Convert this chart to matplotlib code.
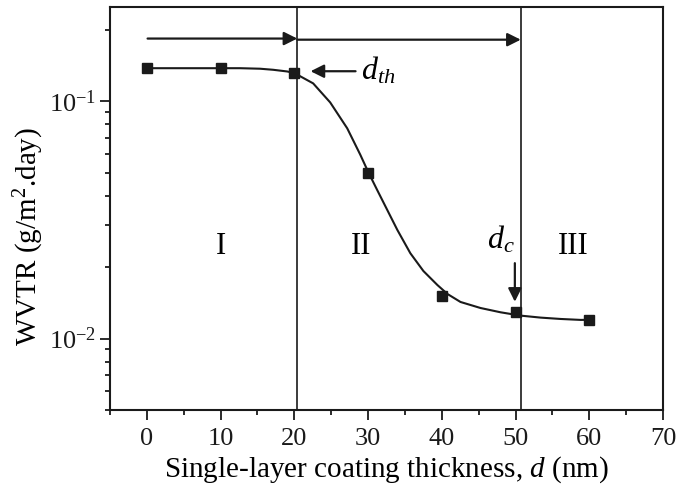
import matplotlib
matplotlib.use("Agg")
import matplotlib.pyplot as plt
from matplotlib.ticker import MultipleLocator, LogLocator, NullFormatter

# measured points (x = thickness in nm, y = WVTR)
thickness = [0, 10, 20, 30, 40, 50, 60]
wvtr = [0.138, 0.138, 0.132, 0.0500, 0.0151, 0.0130, 0.0120]

# fitted curve
fit_x = [0, 10, 12.64, 15.35, 17.12, 19.02, 19.97, 22.55, 24.86, 27.17,
         28.94, 30.03, 31.25, 32.61, 33.97, 35.73, 37.5, 39.4, 40.76, 42.53,
         45.24, 47.96, 50.68, 53.4, 56.11, 58.83, 60]
fit_y = [0.1380, 0.1380, 0.1380, 0.1373, 0.1359, 0.1337, 0.1318, 0.1191,
         0.0990, 0.0770, 0.0596, 0.0503, 0.0422, 0.0348, 0.0287, 0.0229,
         0.01927, 0.01682, 0.01542, 0.01427, 0.01346, 0.01291, 0.01250,
         0.01226, 0.01210, 0.01199, 0.0120]

# region boundaries
d_th = 20.4
d_c = 50.7
region_labels = ["I", "II", "III"]
region_x = [10, 29, 57.8]
region_y = 0.0245

plt.rcParams["font.family"] = ["Liberation Serif", "DejaVu Serif"]
plt.rcParams["mathtext.fontset"] = "custom"
plt.rcParams["mathtext.rm"] = "Liberation Serif"
plt.rcParams["mathtext.it"] = "Liberation Serif:italic"

fig = plt.figure(figsize=(6.78, 4.88), dpi=100)
ax = fig.add_axes([0.1622, 0.1598, 0.8158, 0.8259])

ax.plot(fit_x, fit_y, color="#1a1a1a", lw=1.5, solid_joinstyle="round")
ax.plot(thickness, wvtr, "s", color="#1a1a1a", ms=6.7)

ax.axvline(d_th, color="#1a1a1a", lw=1.2)
ax.axvline(d_c, color="#1a1a1a", lw=1.2)

arrow = dict(arrowstyle="-|>", color="#1a1a1a", lw=1.6,
             shrinkA=0, shrinkB=0, mutation_scale=20)
# top arrows spanning the regions
ax.annotate("", xy=(d_th, 0.184), xytext=(0.1, 0.184), arrowprops=arrow)
ax.annotate("", xy=(d_c, 0.182), xytext=(d_th, 0.182), arrowprops=arrow)
# d_th and d_c markers
ax.annotate("", xy=(22.2, 0.134), xytext=(28.3, 0.134), arrowprops=arrow)
ax.text(29.0, 0.134, r"$d_{th}$", fontsize=23, va="center", ha="left")
ax.annotate("", xy=(49.9, 0.0143), xytext=(49.9, 0.0208), arrowprops=arrow)
ax.text(48.0, 0.0262, r"$d_c$", fontsize=23, va="center", ha="center")

for lab, xx in zip(region_labels, region_x):
    ax.text(xx, region_y, lab, fontsize=22, ha="center", va="center")

ax.set_yscale("log")
ax.set_xlim(-5, 70)
ax.set_ylim(0.005, 0.25)
ax.xaxis.set_major_locator(MultipleLocator(10))
ax.xaxis.set_minor_locator(MultipleLocator(5))
ax.yaxis.set_major_locator(LogLocator(base=10))
ax.yaxis.set_minor_locator(LogLocator(base=10, subs=range(2, 10)))
ax.yaxis.set_minor_formatter(NullFormatter())

ax.tick_params(which="both", direction="out", top=False, right=False,
               width=1.3, labelsize=19, colors="#1a1a1a")
ax.tick_params(which="major", length=7)
ax.tick_params(which="minor", length=3.5)
ax.tick_params(axis="x", pad=6)
ax.tick_params(axis="y", pad=3)

for s in ax.spines.values():
    s.set_linewidth(1.5)
    s.set_color("#1a1a1a")

ax.set_xlabel("Single-layer coating thickness, $d$ (nm)", fontsize=21)
ax.set_ylabel("WVTR (g/m$^2$.day)", fontsize=21)
ax.xaxis.set_label_coords(0.5, -0.11)
ax.yaxis.set_label_coords(-0.115, 0.43)

fig.savefig("out.png", dpi=100)
